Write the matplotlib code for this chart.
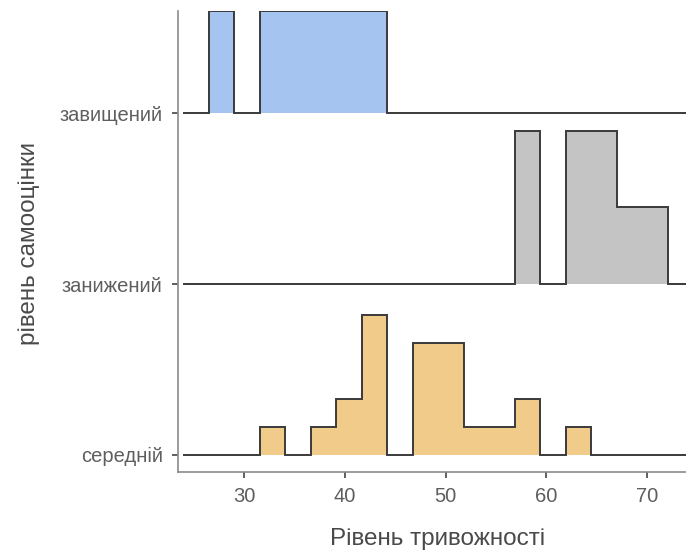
import numpy as np
import matplotlib
matplotlib.use("Agg")
import matplotlib.pyplot as plt

plt.rcParams['font.family'] = ['Liberation Sans', 'DejaVu Sans']

# histogram bins (ggridges binline style), counts per group
bin_start = 26.47
bin_width = 2.533
n_bins = 18

groups = ['середній', 'занижений', 'завищений']
counts = {
    'завищений': [1, 0, 1, 1, 1, 1, 1, 0, 0, 0, 0, 0, 0, 0, 0, 0, 0, 0],
    'занижений': [0, 0, 0, 0, 0, 0, 0, 0, 0, 0, 0, 0, 2, 0, 2, 2, 1, 1],
    'середній':  [0, 0, 1, 0, 1, 2, 5, 0, 4, 4, 1, 1, 2, 0, 1, 0, 0, 0],
}
fills = {'завищений': '#a6c4f0', 'занижений': '#c4c4c4', 'середній': '#f0cb8a'}

xticks = [30, 40, 50, 60, 70]

fig = plt.figure(figsize=(6.86, 5.55), dpi=100)
ax = fig.add_axes([178 / 686, 1 - 472 / 555, 1 - 178 / 686, (472 - 11) / 555])

# padded edges: one empty bin on each side
edges = bin_start + bin_width * np.arange(-1, n_bins + 2)
dens = {g: np.array(c, float) / (sum(c) * bin_width) for g, c in counts.items()}
scale = 0.9 / max(d.max() for d in dens.values())

for i in reversed(range(len(groups))):
    g = groups[i]
    h = np.concatenate([[0], dens[g], [0]]) * scale + i
    ax.stairs(h, edges, baseline=i, fill=True, color=fills[g], lw=0, zorder=2 + (2 - i))
    ax.stairs(h, edges, baseline=i, fill=False, color='#3a3a3a', lw=1.4, zorder=2.5 + (2 - i))

ax.set_xlim(23.4, 73.9)
ax.set_ylim(-0.1, 2.6)
ax.set_yticks(range(len(groups)))
ax.set_yticklabels(groups)
ax.set_xticks(xticks)

for s in ['top', 'right']:
    ax.spines[s].set_visible(False)
for s in ['left', 'bottom']:
    ax.spines[s].set_color('#8a8a8a')
    ax.spines[s].set_linewidth(1.2)
ax.tick_params(colors='#5e5e5e', labelsize=14.5, length=4, width=1.2, color='#444444', pad=7)

ax.set_xlabel('Рівень тривожності', fontsize=17.5, color='#4a4a4a')
ax.set_ylabel('рівень самооцінки', fontsize=17.5, color='#4a4a4a')
ax.xaxis.set_label_coords(0.51, -0.121)
ax.yaxis.set_label_coords(-0.272, 0.496)

fig.savefig('out.png', dpi=100)
